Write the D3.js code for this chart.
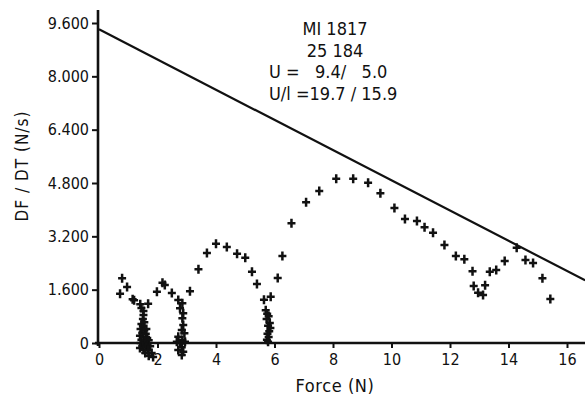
<!DOCTYPE html>
<html>
<head>
<meta charset="utf-8">
<script src="https://cdn.jsdelivr.net/npm/d3@7"></script>
<style>
  body { margin: 0; background: #fff; }
  svg text { font-family: "DejaVu Sans Condensed", "DejaVu Sans", sans-serif; fill: #111; }
</style>
</head>
<body>
<div id="chart"></div>
<script>
// measured points (force N, dF/dt N/s)
const forceValues = [
  0.79, 0.72, 0.96, 1.15, 1.20, 1.41, 1.68, 1.45, 1.52, 1.52, 1.50,
  1.45, 1.50, 1.42, 1.55, 1.48, 1.60, 1.40, 1.52, 1.65, 1.45, 1.58, 1.70, 1.42, 1.55,
  1.65, 1.48, 1.60, 1.75, 1.40, 1.52, 1.68, 1.58, 1.80, 1.70, 1.85, 1.62, 1.55,
  1.98, 2.17, 2.25, 2.49,
  2.71, 2.85, 2.77, 2.88, 2.85, 2.88, 2.83, 2.92, 2.71, 2.85, 2.77, 2.94, 2.66, 2.83,
  2.71, 2.88, 2.83,
  3.11, 3.40, 3.69, 4.00, 4.37, 4.72, 5.00, 5.23, 5.40, 5.64, 5.87,
  5.70, 5.75, 5.80, 5.73, 5.84, 5.78, 5.86, 5.82, 5.76, 5.80, 5.74, 5.78,
  6.11, 6.27, 6.58, 7.08, 7.53, 8.11, 8.69, 9.20, 9.62, 10.10, 10.46, 10.87,
  11.13, 11.42, 11.81, 12.20, 12.49, 12.77, 12.81, 12.96, 13.13, 13.20, 13.36,
  13.58, 13.87, 14.28, 14.58, 14.84, 15.16, 15.43
];
const rateValues = [
  1.94, 1.48, 1.68, 1.31, 1.28, 1.16, 1.18, 1.05, 0.96, 0.84, 0.72,
  0.57, 0.50, 0.42, 0.38, 0.30, 0.28, 0.22, 0.18, 0.15, 0.10, 0.05, 0.08, 0.00, -0.03,
  -0.05, -0.10, -0.12, -0.10, -0.15, -0.20, -0.22, -0.30, -0.30, -0.38, -0.42, 0.42, 0.62,
  1.54, 1.81, 1.74, 1.50,
  1.29, 1.19, 1.04, 0.89, 0.74, 0.54, 0.39, 0.29, 0.19, 0.09, -0.01, 0.04, 0.04, -0.13,
  -0.21, -0.26, -0.36,
  1.55, 2.21, 2.70, 2.98, 2.88, 2.68, 2.56, 2.14, 1.77, 1.30, 1.39,
  0.98, 0.88, 0.80, 0.72, 0.60, 0.52, 0.45, 0.35, 0.28, 0.18, 0.10, 0.04,
  1.95, 2.61, 3.59, 4.22, 4.56, 4.93, 4.93, 4.81, 4.49, 4.05, 3.72, 3.66,
  3.47, 3.31, 2.94, 2.61, 2.51, 2.15, 1.71, 1.51, 1.44, 1.73, 2.14,
  2.19, 2.46, 2.86, 2.49, 2.40, 1.94, 1.32
];
// limit line
const limitForce = [0, 16.62];
const limitRate = [9.41, 1.88];

const xTicks = [0, 2, 4, 6, 8, 10, 12, 14, 16];
const yTicks = [0, 1.6, 3.2, 4.8, 6.4, 8.0, 9.6];
const infoLines = ["MI 1817", "25 184", "U =   9.4/   5.0", "U/l =19.7 / 15.9"];

const width = 585, height = 401;
const margin = { top: 10, right: 0, bottom: 58, left: 99 };

const svg = d3.select("#chart").append("svg")
  .attr("width", width)
  .attr("height", height);

const x = d3.scaleLinear().domain([0, 16]).range([99, 567]);
const y = d3.scaleLinear().domain([0, 9.6]).range([343, 23]);

// axes
const xAxis = svg.append("g")
  .attr("transform", `translate(0,${y(0)})`)
  .call(d3.axisBottom(x).tickValues(xTicks).tickSize(5).tickPadding(6).tickFormat(d3.format("d")));
xAxis.select(".domain").remove();
svg.append("line")
  .attr("x1", 95).attr("x2", width)
  .attr("y1", y(0)).attr("y2", y(0))
  .attr("stroke", "#111").attr("stroke-width", 2.6);

const yAxis = svg.append("g")
  .attr("transform", `translate(${x(0) - 1},0)`)
  .call(d3.axisLeft(y).tickValues(yTicks).tickSize(6).tickPadding(3)
    .tickFormat(d => d === 0 ? "0" : d3.format(".3f")(d)));
yAxis.select(".domain").remove();
svg.append("line")
  .attr("x1", x(0) - 1).attr("x2", x(0) - 1)
  .attr("y1", margin.top).attr("y2", y(0) + 3)
  .attr("stroke", "#111").attr("stroke-width", 2.6);

svg.selectAll(".tick line").attr("stroke", "#111").attr("stroke-width", 2);
svg.selectAll(".tick text").attr("font-size", 16).attr("fill", "#111");

// axis titles
svg.append("text")
  .attr("x", 335).attr("y", 392)
  .attr("text-anchor", "middle")
  .attr("font-size", 18)
  .attr("letter-spacing", 0.6)
  .text("Force (N)");

svg.append("text")
  .attr("transform", "translate(28,166) rotate(-90)")
  .attr("text-anchor", "middle")
  .attr("font-size", 17)
  .attr("letter-spacing", 1)
  .text("DF / DT (N/s)");

// info block
svg.append("g").selectAll("text")
  .data(infoLines)
  .join("text")
  .attr("x", (d, i) => i < 2 ? 335 : 269)
  .attr("y", (d, i) => 35 + i * 21.7)
  .attr("text-anchor", (d, i) => i < 2 ? "middle" : "start")
  .attr("font-size", 18)
  .style("white-space", "pre")
  .text(d => d);

// limit line
const line = d3.line().x(d => x(d[0])).y(d => y(d[1]));
svg.append("path")
  .datum(d3.zip(limitForce, limitRate))
  .attr("d", line)
  .attr("fill", "none")
  .attr("stroke", "#111")
  .attr("stroke-width", 2.2);

// plus markers
const points = d3.zip(forceValues, rateValues);
svg.append("g").selectAll("path")
  .data(points)
  .join("path")
  .attr("transform", d => `translate(${x(d[0])},${y(d[1])})`)
  .attr("d", "M-4,0H4M0,-4.5V4.5")
  .attr("stroke", "#111")
  .attr("stroke-width", 2.5)
  .attr("fill", "none");
</script>
</body>
</html>
